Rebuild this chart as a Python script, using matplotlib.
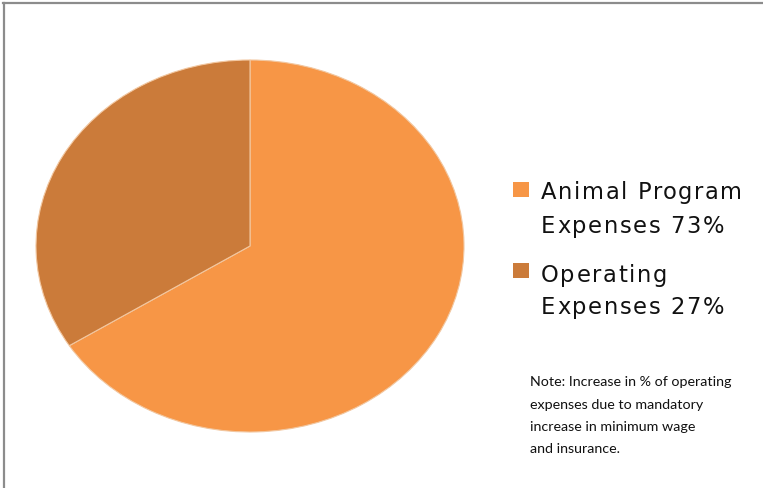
import matplotlib
matplotlib.use("Agg")
import matplotlib.pyplot as plt
from matplotlib.lines import Line2D
from matplotlib.patches import Rectangle

labels = [["Animal Program", "Expenses 73%"], ["Operating", "Expenses 27%"]]
values = [66, 34]
colors = ["#F79646", "#CB7B3A"]
note_lines = ["Note: Increase in % of operating", "expenses due to mandatory",
              "increase in minimum wage", "and insurance."]

W, H = 763, 488
fig = plt.figure(figsize=(W / 100, H / 100), dpi=100)
fig.patch.set_facecolor("white")

# pie axes (stretched to ellipse)
ax = fig.add_axes([36 / W, (H - 432) / H, 428 / W, 372 / H])
ax.pie(values, colors=colors, startangle=90, counterclock=False,
       wedgeprops=dict(edgecolor="#F2C7A0", linewidth=0.8))
ax.set_aspect("auto")
ax.set_xlim(-1, 1)
ax.set_ylim(-1, 1)
ax.axis("off")

# border lines (top and left)
fig.add_artist(Line2D([3 / W, 1], [1 - 2.5 / H, 1 - 2.5 / H], color="#8C8C8C", lw=1.6))
fig.add_artist(Line2D([3.5 / W, 3.5 / W], [0, 1 - 2.5 / H], color="#8C8C8C", lw=1.6))

renderer = fig.canvas.get_renderer()


def text_width(s, **kw):
    t = fig.text(0, 0, s, **kw)
    w = t.get_window_extent(renderer).width
    t.remove()
    return w


def spaced_text(x_px, bl_px, s, spacing, **kw):
    """Draw text with extra letter spacing (pixel units)."""
    for i, ch in enumerate(s):
        if ch == " ":
            continue
        w = text_width(s[:i], **kw) if i > 0 else 0.0
        fig.text((x_px + w + i * spacing) / W, 1 - bl_px / H, ch,
                 va="baseline", ha="left", **kw)


# legend
sq_tops = [182, 263]
baselines = [[199, 233], [282, 314]]
for top, bls, lab, c in zip(sq_tops, baselines, labels, colors):
    fig.add_artist(Rectangle((513 / W, 1 - (top + 15) / H), 16 / W, 15 / H,
                             transform=fig.transFigure, facecolor=c, edgecolor="none"))
    for bl, line in zip(bls, lab):
        spaced_text(541, bl, line, 1.6, fontsize=16.3, family="DejaVu Sans",
                    color="#111111")

note_bls = [386, 409, 431, 453]
for bl, line in zip(note_bls, note_lines):
    fig.text(530 / W, 1 - bl / H, line, fontsize=10.3, family="Lato",
             va="baseline", ha="left", color="#111111")

fig.savefig("out.png", dpi=100, facecolor="white")
